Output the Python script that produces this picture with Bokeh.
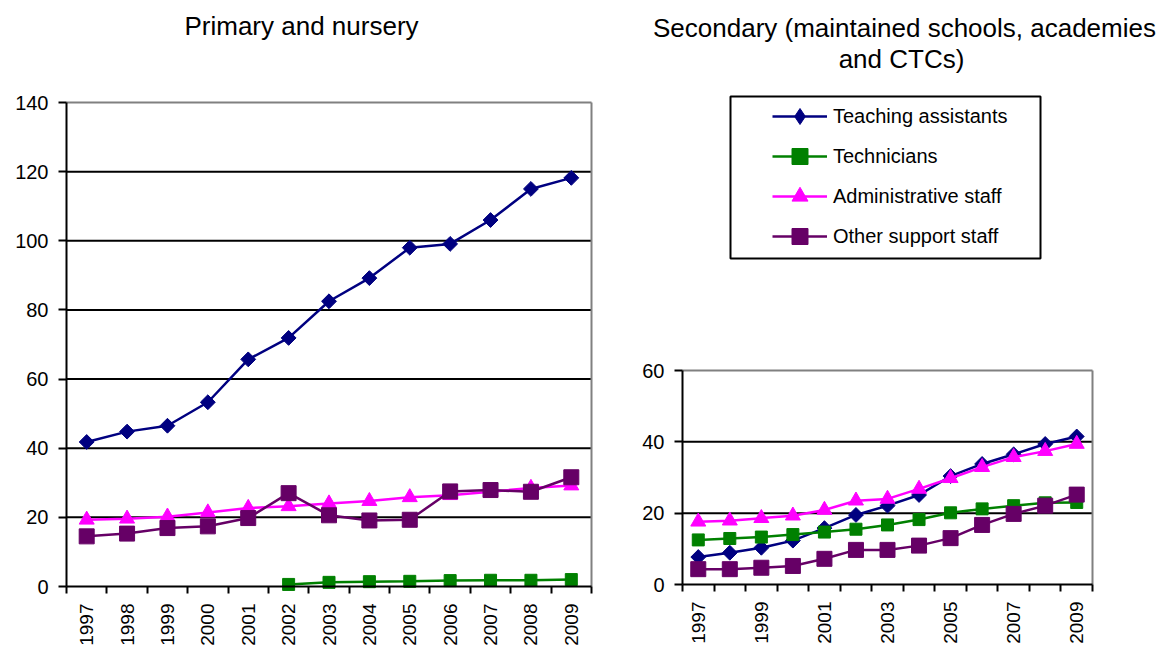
import math
from bokeh.plotting import figure
from bokeh.models import Range1d, FixedTicker, Label, Legend, LegendItem, BoxAnnotation
from bokeh.layouts import row
from bokeh.embed import file_html
from bokeh.resources import INLINE

NaN = float("nan")

# ---------------- data ----------------
years = [1997, 1998, 1999, 2000, 2001, 2002, 2003, 2004, 2005, 2006, 2007, 2008, 2009]

series_names = ["Teaching assistants", "Technicians", "Administrative staff", "Other support staff"]

# Primary and nursery
ta_primary = [41.8, 44.8, 46.5, 53.3, 65.7, 71.9, 82.5, 89.2, 98.0, 99.1, 106.0, 115.0, 118.2]
tech_primary = [NaN, NaN, NaN, NaN, NaN, 0.6, 1.2, 1.4, 1.5, 1.7, 1.8, 1.8, 2.0]
admin_primary = [19.3, 19.6, 20.2, 21.4, 22.7, 23.2, 24.0, 24.7, 25.8, 26.4, 27.4, 28.5, 29.2]
other_primary = [14.5, 15.3, 16.9, 17.4, 19.8, 27.0, 20.6, 19.1, 19.3, 27.5, 27.9, 27.4, 31.6]

# Secondary
ta_secondary = [7.7, 8.9, 10.3, 12.3, 15.8, 19.5, 22.1, 25.1, 30.4, 33.8, 36.5, 39.4, 41.5]
tech_secondary = [12.5, 12.9, 13.3, 14.0, 14.7, 15.5, 16.7, 18.2, 20.1, 21.2, 22.1, 22.9, 23.0]
admin_secondary = [17.6, 17.9, 18.6, 19.3, 20.9, 23.5, 24.0, 26.8, 29.8, 32.9, 35.7, 37.4, 39.4]
other_secondary = [4.3, 4.3, 4.7, 5.2, 7.2, 9.7, 9.7, 10.9, 13.0, 16.7, 19.8, 22.1, 25.2]

primary_ticks = [0, 20, 40, 60, 80, 100, 120, 140]
secondary_ticks = [0, 20, 40, 60]
secondary_label_years = [1997, 1999, 2001, 2003, 2005, 2007, 2009]

title_primary = "Primary and nursery"
title_secondary_1 = "Secondary (maintained schools, academies"
title_secondary_2 = "and CTCs)"

# ---------------- styles ----------------
FONT = "Liberation Sans"
colors = ["#000080", "#008000", "#FF00FF", "#660066"]
markers = ["square", "square", "triangle", "square"]
angles = [math.pi / 4, 0, 0, 0]
sizes = [10.5, 12, 15, 15]
LW = 2.5

H = 646
FRAME_TOP = 1
FRAME_BOTTOM = 645
XLO = years[0] - 0.5
XHI = years[-1] + 0.5
bounds = [y - 0.5 for y in years] + [XHI]


def make_fig(fig_x, width, axis_left, axis_right, axis_top, axis_bottom, yticks, label_years):
    """All pixel arguments are page coordinates; axes are pinned inside a full-size frame."""
    frame_left = fig_x + 1
    frame_right = fig_x + width - 1
    ymax = yticks[-1]
    px_per_x = (axis_right - axis_left) / (XHI - XLO)
    px_per_y = (axis_bottom - axis_top) / ymax
    x_start = XLO - (axis_left - frame_left) / px_per_x
    x_end = XHI + (frame_right - axis_right) / px_per_x
    y_start = -(FRAME_BOTTOM - axis_bottom) / px_per_y
    y_end = ymax + (axis_top - FRAME_TOP) / px_per_y
    p = figure(width=width, height=H,
               x_range=Range1d(x_start, x_end),
               y_range=Range1d(y_start, y_end),
               output_backend="svg", toolbar_location=None,
               min_border_left=1, min_border_right=1,
               min_border_top=FRAME_TOP, min_border_bottom=H - FRAME_BOTTOM)
    p.background_fill_color = "white"
    p.border_fill_color = "white"
    p.outline_line_color = None
    p.xgrid.visible = False
    p.ygrid.visible = False

    # horizontal gridlines (black) and the grey top/right plot border
    grid_vals = yticks[1:-1]
    p.segment(x0=[XLO] * len(grid_vals), y0=grid_vals, x1=[XHI] * len(grid_vals), y1=grid_vals,
              line_color="black", line_width=2)
    p.segment(x0=[XLO, XHI], y0=[ymax, 0], x1=[XHI, XHI], y1=[ymax, ymax],
              line_color="#808080", line_width=2)

    xa = p.xaxis[0]
    xa.fixed_location = 0
    xa.bounds = (XLO, XHI)
    xa.ticker = FixedTicker(ticks=label_years, minor_ticks=bounds)
    xa.major_label_overrides = {y: str(y) for y in label_years}
    xa.major_tick_out = 0
    xa.major_tick_in = 0
    xa.minor_tick_out = 7
    xa.minor_tick_in = 0
    xa.minor_tick_line_color = "black"
    xa.minor_tick_line_width = 2
    xa.axis_line_color = "black"
    xa.axis_line_width = 2
    xa.major_label_orientation = math.pi / 2
    xa.major_label_standoff = 10
    xa.major_label_text_font = FONT
    xa.major_label_text_font_size = "19px"
    xa.major_label_text_color = "black"

    ya = p.yaxis[0]
    ya.fixed_location = XLO
    ya.bounds = (0, ymax)
    ya.ticker = FixedTicker(ticks=yticks)
    ya.major_tick_out = 8
    ya.major_tick_in = 0
    ya.minor_tick_out = 0
    ya.minor_tick_in = 0
    ya.major_tick_line_color = "black"
    ya.major_tick_line_width = 2
    ya.axis_line_color = "black"
    ya.axis_line_width = 2
    ya.major_label_standoff = 10
    ya.major_label_text_font = FONT
    ya.major_label_text_font_size = "20px"
    ya.major_label_text_color = "black"

    def to_data(px, py):
        return (XLO + (px - axis_left) / px_per_x, (axis_bottom - py) / px_per_y)

    return p, to_data, frame_left


def add_series(p, data_list):
    items = []
    for name, ys, c, m, a, s in zip(series_names, data_list, colors, markers, angles, sizes):
        lr = p.line(years, ys, line_color=c, line_width=LW)
        sr = p.scatter(years, ys, marker=m, angle=a, size=s, fill_color=c, line_color=c)
        if a:
            # the legend draws markers unrotated, so give it a diamond to show
            proxy = p.scatter(years, ys, marker="diamond", size=s, fill_color=c,
                              line_color=c, visible=False)
            items.append(LegendItem(label=name, renderers=[lr, proxy]))
        else:
            items.append(LegendItem(label=name, renderers=[lr, sr]))
    return items


def add_title(p, to_data, text, px, py):
    x, y = to_data(px, py)
    p.add_layout(Label(x=x, y=y, text=text, text_align="center", text_baseline="middle",
                       text_font=FONT, text_font_size="26px", text_color="black"))


# Left chart: page x 0..600, axes box 66..591 x 102..586
p1, d1, fl1 = make_fig(0, 600, 66, 591, 102, 586, primary_ticks, years)
add_series(p1, [ta_primary, tech_primary, admin_primary, other_primary])
add_title(p1, d1, title_primary, 301, 25)

# Right chart: page x 600..1166, axes box 682..1092 x 370..584
p2, d2, fl2 = make_fig(600, 566, 682, 1092, 370, 584, secondary_ticks, secondary_label_years)
items = add_series(p2, [ta_secondary, tech_secondary, admin_secondary, other_secondary])
add_title(p2, d2, title_secondary_1, 904, 27)
add_title(p2, d2, title_secondary_2, 901, 58)

# legend frame
bl, bt = d2(730, 96)
br, bb = d2(1040, 258)
p2.add_layout(BoxAnnotation(left=bl, right=br, top=bt, bottom=bb,
                            fill_color="white", fill_alpha=1,
                            line_color="black", line_width=2, line_alpha=1))

legend = Legend(items=items, location=(772 - fl2, FRAME_BOTTOM - 256), orientation="vertical",
                glyph_width=55, glyph_height=40, label_height=40, label_width=100,
                label_standoff=6, padding=0, spacing=0, margin=0,
                border_line_color=None, background_fill_alpha=0,
                inactive_fill_alpha=0,
                label_text_font=FONT, label_text_font_size="20px",
                label_text_color="black", label_text_baseline="middle")
p2.add_layout(legend, "center")

layout = row(p1, p2)
open("out.html", "w").write(file_html(layout, INLINE))
